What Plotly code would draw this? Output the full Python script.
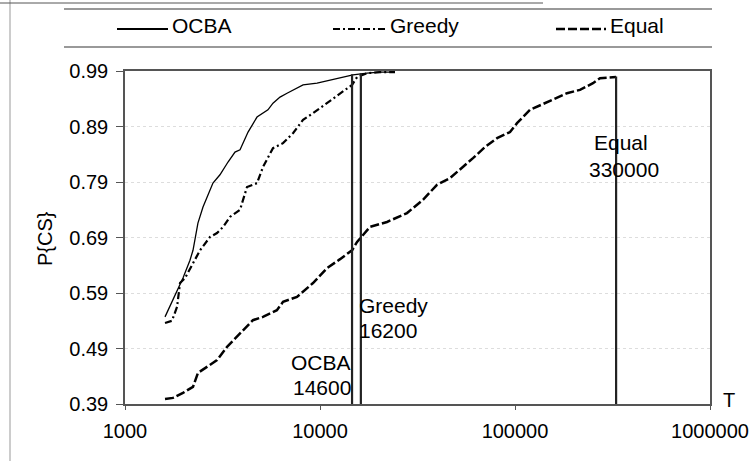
import math
import plotly.graph_objects as go

# ---------------- data ----------------
ocba_T = [1604, 1983, 2154, 2232, 2366, 2512, 2825, 3069, 3375, 3665, 3890, 4276, 4753, 5100,
          5408, 5740, 6237, 6776, 7270, 8186, 9660, 10870, 12670, 14760, 17420, 20300, 24250]
ocba_P = [0.547, 0.617, 0.649, 0.667, 0.716, 0.745, 0.788, 0.803, 0.826, 0.844, 0.848, 0.880, 0.907, 0.914,
          0.920, 0.932, 0.943, 0.950, 0.956, 0.965, 0.968, 0.972, 0.977, 0.983, 0.986, 0.988, 0.988]

greedy_T = [1604, 1742, 1849, 1915, 2032, 2232, 2425, 2729, 2964, 3183, 3452, 3890, 4224, 4753, 5100,
            5740, 6460, 7270, 8186, 9210, 10870, 12670, 14600, 15490, 17420, 20300, 24250]
greedy_P = [0.536, 0.540, 0.565, 0.608, 0.617, 0.644, 0.667, 0.691, 0.698, 0.709, 0.727, 0.740, 0.781, 0.788, 0.817,
            0.851, 0.860, 0.878, 0.902, 0.914, 0.932, 0.950, 0.965, 0.979, 0.986, 0.988, 0.988]

equal_T = [1604, 1763, 1983, 2232, 2366, 2964, 3337, 3890, 4530, 5100, 6010, 6460, 7620, 9210, 10870,
           12670, 14600, 15490, 18030, 22070, 27940, 33740, 39810, 46420, 52240, 60900, 70200, 80900,
           94300, 102400, 119400, 145900, 184800, 215400, 251200, 272900, 318200, 330000]
equal_P = [0.399, 0.401, 0.410, 0.421, 0.446, 0.469, 0.493, 0.518, 0.541, 0.547, 0.559, 0.574, 0.583, 0.608, 0.635,
           0.651, 0.667, 0.682, 0.709, 0.718, 0.734, 0.758, 0.785, 0.797, 0.812, 0.833, 0.853, 0.869,
           0.880, 0.896, 0.920, 0.934, 0.950, 0.956, 0.968, 0.977, 0.979, 0.979]

methods = ["OCBA", "Greedy", "Equal"]
stop_T = [14600, 16200, 330000]
stop_top = [0.984, 0.986, 0.980]

y_ticks = [0.39, 0.49, 0.59, 0.69, 0.79, 0.89, 0.99]
x_ticks = [1000, 10000, 100000, 1000000]
x_tick_labels = ["1000", "10000", "100000", "1000000"]

FONT = "Liberation Sans, Arial, sans-serif"
FS = 20
FA = 21

# plot area in pixels
W, H = 751, 461
L, R, T_, B = 125, 41, 71, 57
PW, PH = W - L - R, H - T_ - B


def px(xp):
    return (xp - L) / PW


def py(yp):
    return (H - B - yp) / PH


fig = go.Figure()

styles = {
    "OCBA": dict(color="black", width=1.3, dash="solid"),
    "Greedy": dict(color="black", width=2.2, dash="7px,3px,2px,3px"),
    "Equal": dict(color="black", width=2.5, dash="9px,3px"),
}

for name, xs, ys in [("OCBA", ocba_T, ocba_P), ("Greedy", greedy_T, greedy_P), ("Equal", equal_T, equal_P)]:
    fig.add_trace(go.Scatter(x=xs, y=ys, mode="lines", name=name, line=styles[name],
                             showlegend=False, hoverinfo="skip"))

# vertical stop lines
for t, top in zip(stop_T, stop_top):
    fig.add_trace(go.Scatter(x=[t, t], y=[y_ticks[0], top], mode="lines",
                             line=dict(color="#222222", width=2.2), showlegend=False, hoverinfo="skip"))

annotations = []
lab_font = dict(family=FONT, size=FA, color="black")
annotations += [
    dict(x=math.log10(stop_T[0]), y=0.464, xref="x", yref="y", text=methods[0], showarrow=False,
         xanchor="right", yanchor="middle", xshift=1, font=lab_font),
    dict(x=math.log10(stop_T[0]), y=0.419, xref="x", yref="y", text=str(stop_T[0]), showarrow=False,
         xanchor="right", yanchor="middle", xshift=1, font=lab_font),
    dict(x=math.log10(stop_T[1]), y=0.568, xref="x", yref="y", text=methods[1], showarrow=False,
         xanchor="left", yanchor="middle", xshift=-4, font=lab_font),
    dict(x=math.log10(stop_T[1]), y=0.523, xref="x", yref="y", text=str(stop_T[1]), showarrow=False,
         xanchor="left", yanchor="middle", xshift=-4, font=lab_font),
    dict(x=math.log10(stop_T[2]), y=0.862, xref="x", yref="y", text=methods[2], showarrow=False,
         xanchor="center", yanchor="middle", xshift=5, font=lab_font),
    dict(x=math.log10(stop_T[2]), y=0.812, xref="x", yref="y", text=str(stop_T[2]), showarrow=False,
         xanchor="center", yanchor="middle", xshift=8, font=lab_font),
]

# axis titles
annotations += [
    dict(x=px(45), y=py(238), xref="paper", yref="paper", text="P{CS}", textangle=-90, showarrow=False,
         xanchor="center", yanchor="middle", font=dict(family=FONT, size=FS, color="black")),
    dict(x=px(729), y=py(400), xref="paper", yref="paper", text="T", showarrow=False,
         xanchor="center", yanchor="middle", font=dict(family=FONT, size=FS, color="black")),
]

# custom legend
leg_samples = [(117, 168, 170), (333, 386, 388), (556, 606, 608)]
shapes = []
for name, (s0, s1, tx) in zip(methods, leg_samples):
    st = styles[name]
    shapes.append(dict(type="line", xref="paper", yref="paper", x0=px(s0), x1=px(s1), y0=py(29), y1=py(29),
                       line=dict(color="black", width=st["width"] if name != "OCBA" else 2,
                                 dash=st["dash"])))
    annotations.append(dict(x=px(tx), y=py(25), xref="paper", yref="paper", text=name, showarrow=False,
                            xanchor="left", yanchor="middle", font=dict(family=FONT, size=FA, color="black")))

# legend box lines
shapes.append(dict(type="line", xref="paper", yref="paper", x0=px(64), x1=px(712), y0=py(9), y1=py(9),
                   line=dict(color="#777777", width=1.5)))
shapes.append(dict(type="line", xref="paper", yref="paper", x0=px(64), x1=px(712), y0=py(47), y1=py(47),
                   line=dict(color="#777777", width=1.5)))
# scan frame lines
shapes.append(dict(type="line", xref="paper", yref="paper", x0=px(10), x1=px(10), y0=py(0), y1=py(461),
                   line=dict(color="#999999", width=1)))
shapes.append(dict(type="line", xref="paper", yref="paper", x0=px(0), x1=px(543), y0=py(3), y1=py(3),
                   line=dict(color="#555555", width=1)))

fig.update_layout(
    width=W, height=H, autosize=False,
    margin=dict(l=L, r=R, t=T_, b=B, pad=0, autoexpand=False),
    paper_bgcolor="white", plot_bgcolor="white",
    font=dict(family=FONT, size=FS, color="black"),
    annotations=annotations,
    shapes=shapes,
    showlegend=False,
)

fig.update_xaxes(type="log", range=[3, 6], tickvals=x_ticks, ticktext=x_tick_labels,
                 showline=True, linecolor="#555555", linewidth=1.5, mirror=True, automargin=False,
                 ticks="outside", ticklen=4, tickcolor="#555555", showgrid=False, zeroline=False,
                 ticklabelstandoff=4,
                 tickfont=dict(family=FONT, size=FS))
fig.update_yaxes(range=[0.39, 0.99], tickvals=y_ticks, ticktext=[f"{v:.2f}" for v in y_ticks],
                 showline=True, linecolor="#555555", linewidth=1.5, mirror=True, automargin=False,
                 ticks="outside", ticklen=7, tickcolor="#555555", ticklabelstandoff=4,
                 showgrid=True, gridcolor="#dddddd", griddash="dot", gridwidth=1, zeroline=False,
                 tickfont=dict(family=FONT, size=FS))

fig.write_html("out.html", config={"displayModeBar": False},
               post_script="document.body.style.margin='0';document.body.style.overflow='hidden';")
